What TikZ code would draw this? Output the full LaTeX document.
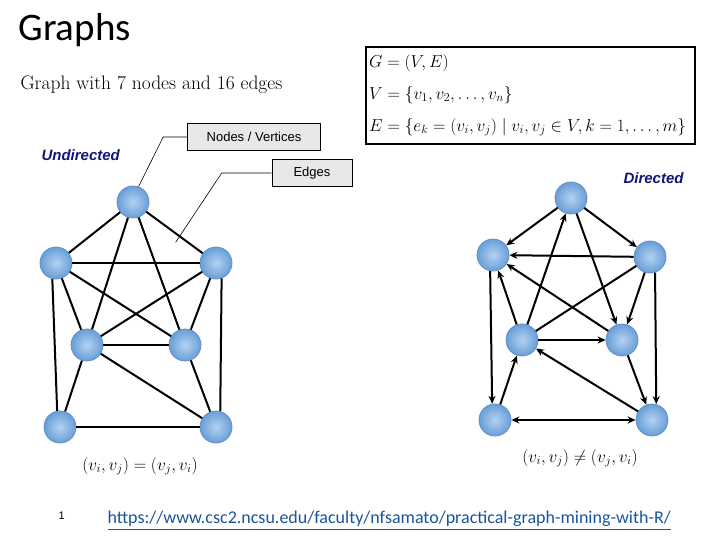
\documentclass[tikz,border=0pt]{standalone}
\usepackage{amsmath,amssymb}
\usepackage{fontspec}
\usepackage{xcolor}
\usetikzlibrary{arrows.meta}
\newfontfamily\titlefont{Carlito}
\newfontfamily\labelfont{Liberation Sans}
\definecolor{vlight}{RGB}{178,210,242}
\definecolor{vdark}{RGB}{105,158,215}
\definecolor{vborder}{RGB}{95,145,200}
\definecolor{tagnavy}{RGB}{20,20,120}
\definecolor{linkblue}{RGB}{25,85,155}
\tikzset{
  vtx/.style={circle, minimum size=32pt, inner sep=0pt, draw=vborder, line width=0.8pt, inner color=vlight, outer color=vdark},
  edge/.style={line width=2pt},
  arc/.style={line width=2pt, -{Stealth[length=8pt,width=7pt]}},
  tag/.style={draw, fill=gray!18, line width=0.6pt, font=\labelfont\fontsize{13}{15}\selectfont, inner xsep=5pt, minimum height=27pt},
  kind/.style={text=tagnavy, font=\labelfont\bfseries\itshape\fontsize{15}{17}\selectfont}
}
\begin{document}
\begin{tikzpicture}[x=1pt, y=-1pt]
\useasboundingbox (0,0) rectangle (720,540);
\node[anchor=west, font=\titlefont\fontsize{39}{42}\selectfont] (title) at (15,30) {Graphs};
\node[anchor=west, font=\fontsize{19.5}{22}\selectfont] (sub) at (17,85) {Graph with 7 nodes and 16 edges};
\node[draw, line width=1.6pt, minimum width=329pt, minimum height=97pt, anchor=north west] (defs) at (365,46) {};
\node[anchor=west, align=left, inner sep=0pt, font=\fontsize{16.6}{19}\selectfont] (defstxt) at ([xshift=4pt]defs.west)
  {$G=(V,E)$\\[13pt] $V=\{v_1,v_2,\dots,v_n\}$\\[13pt] $E=\{e_k=(v_i,v_j)\mid v_i,v_j\in V,k=1,\dots,m\}$};
\node[tag, minimum width=133pt] (nv) at (254,137) {Nodes / Vertices};
\node[tag, minimum width=80pt] (ed) at (312,173) {Edges};
\node[kind, anchor=west] (und) at (38,155) {Undirected};
\node[kind, anchor=west] (dir) at (620,178) {Directed};

\node[vtx] (t) at (133,202) {};
\node[vtx] (ul) at (56,263) {};
\node[vtx] (ur) at (216,263) {};
\node[vtx] (ml) at (87,345) {};
\node[vtx] (mr) at (185,345) {};
\node[vtx] (bl) at (60,427) {};
\node[vtx] (br) at (216,427) {};
\draw[edge] (t)--(ul);
\draw[edge] (t)--(ur);
\draw[edge] (t)--(ml);
\draw[edge] (t)--(mr);
\draw[edge] (ul)--(ur);
\draw[edge] (ul)--(mr);
\draw[edge] (ul)--(ml);
\draw[edge] (ul.-103)--(bl.100);
\draw[edge] (ur)--(ml);
\draw[edge] (ur)--(mr);
\draw[edge] (ur.-70)--(br.75);
\draw[edge] (ml)--(mr);
\draw[edge] (ml)--(bl);
\draw[edge] (ml)--(br);
\draw[edge] (mr)--(br);
\draw[edge] (bl)--(br);
\path (t)--(ur) coordinate[pos=0.52] (etop);
\draw[line width=0.6pt] (nv.west)--++(-24,0)--(t.70);
\draw[line width=0.6pt] (ed.west)--++(-50,0)--([yshift=-9pt]etop);
\node[font=\fontsize{17.5}{20}\selectfont] (eq1) at (140,466) {$(v_i,v_j)=(v_j,v_i)$};

\node[vtx] (dt) at (571,198) {};
\node[vtx] (dul) at (493,255) {};
\node[vtx] (dur) at (650,257) {};
\node[vtx] (dml) at (522,340) {};
\node[vtx] (dmr) at (622,340) {};
\node[vtx] (dbl) at (495,420) {};
\node[vtx] (dbr) at (652,420) {};
\draw[arc] (dt)--(dul);
\draw[arc] (dt)--(dur);
\draw[arc] (dml)--(dt);
\draw[arc] (dt)--(dmr);
\draw[arc] (dur)--(dul);
\draw[arc] (dmr)--(dul);
\draw[arc] (dml)--(dul);
\draw[arc] (dul.-100)--(dbl.100);
\draw[edge] (dur)--(dml);
\draw[arc] (dur)--(dmr);
\draw[arc] (dur.-72)--(dbr.75);
\draw[arc] (dml)--(dmr);
\draw[arc] (dbl)--(dml);
\draw[arc] (dbr)--(dml);
\draw[arc] (dmr)--(dbr);
\draw[arc, {Stealth[length=8pt,width=7pt]}-{Stealth[length=8pt,width=7pt]}] (dbl)--(dbr);
\node[font=\fontsize{18.5}{21}\selectfont] (eq2) at (580,458) {$(v_i,v_j)\neq(v_j,v_i)$};

\node[anchor=west, font=\labelfont\fontsize{11}{13}\selectfont] (pg) at (55,516) {1};
\node[anchor=west, text=linkblue, font=\titlefont\fontsize{18}{20}\selectfont] (url) at (104,521) {\underline{https://www.csc2.ncsu.edu/faculty/nfsamato/practical-graph-mining-with-R/}};
\end{tikzpicture}
\end{document}
